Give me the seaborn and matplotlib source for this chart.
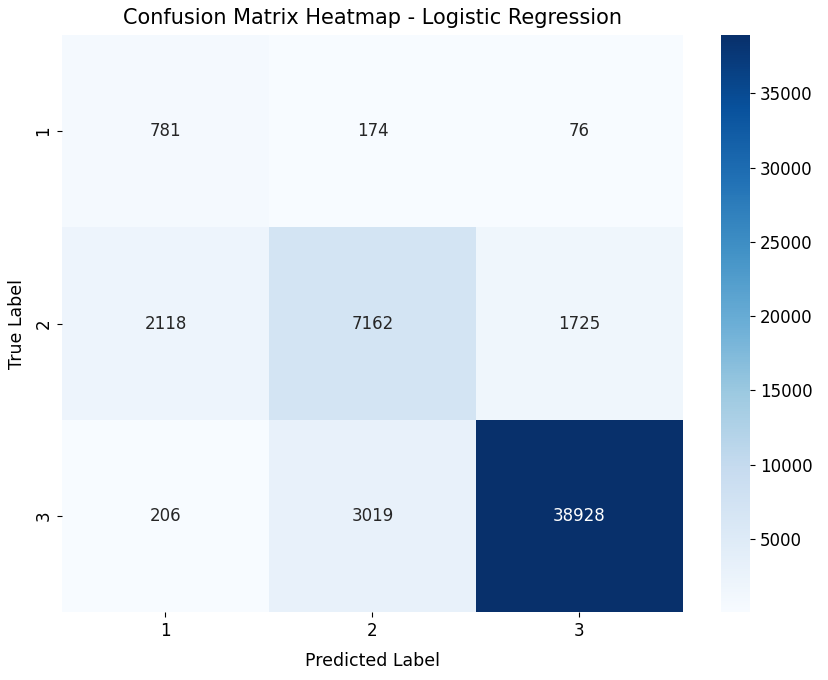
import numpy as np
import pandas as pd
import matplotlib
matplotlib.use("Agg")
import matplotlib.pyplot as plt
import seaborn as sns

labels = ["1", "2", "3"]
row1 = [781, 174, 76]
row2 = [2118, 7162, 1725]
row3 = [206, 3019, 38928]

cm = pd.DataFrame([row1, row2, row3], index=labels, columns=labels)

fig = plt.figure(figsize=(8.29, 6.8), dpi=100)
ax = fig.add_axes([0.0748, 0.1, 0.749, 0.8485])
cax = fig.add_axes([0.8697, 0.1, 0.035, 0.8485])

fs = 12
sns.heatmap(cm, annot=True, fmt="d", cmap="Blues", ax=ax, cbar_ax=cax,
            annot_kws={"fontsize": fs})
ax.set_title("Confusion Matrix Heatmap - Logistic Regression", fontsize=15, pad=8)
ax.set_xlabel("Predicted Label", fontsize=12.5, labelpad=9)
ax.set_ylabel("True Label", fontsize=12.5, labelpad=6)
ax.tick_params(labelsize=fs)
cax.tick_params(labelsize=fs)
cax.set_frame_on(False)

fig.savefig("out.png", dpi=100)
